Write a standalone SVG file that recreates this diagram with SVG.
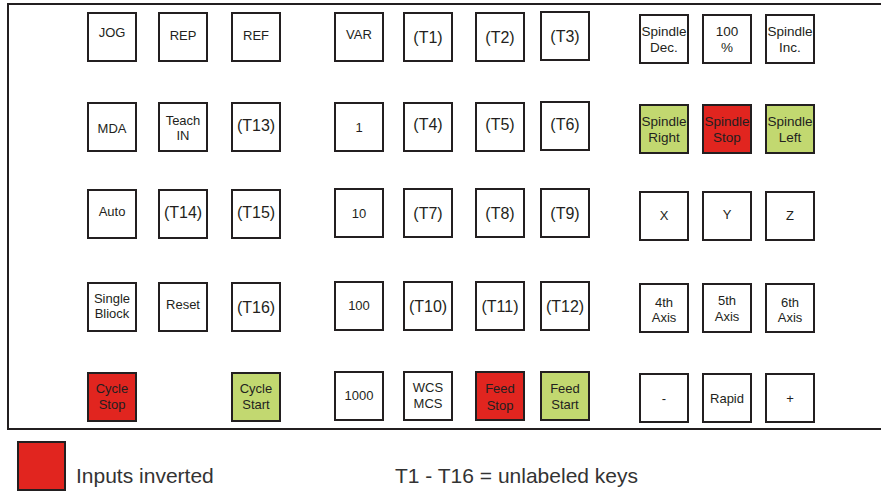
<svg xmlns="http://www.w3.org/2000/svg" width="881" height="492" viewBox="0 0 881 492">
<style>
.k{fill:#fff;stroke:#231f20;stroke-width:2}
.r{fill:#e1251f;stroke:#231f20;stroke-width:2}
.g{fill:#c2d870;stroke:#231f20;stroke-width:2}
text{font-family:"Liberation Sans",Arial,sans-serif;fill:#231f20;text-anchor:middle}
.s{font-size:13px}
.sp{font-size:13.5px}
.t{font-size:16px}
.lg{font-size:21px;fill:#333;text-anchor:start}
</style>
<rect width="881" height="492" fill="#fff"/>
<g id="frame"><path d="M884,4 H8 V429 H884" fill="none" stroke="#231f20" stroke-width="2"/></g>
<g id="connectors"/>
<!-- Row 1 -->
<g id="jog"><rect class="k" x="88" y="13" width="48" height="48"/><text class="s" x="112" y="37">JOG</text></g>
<g id="rep"><rect class="k" x="159" y="13" width="48" height="48"/><text class="s" x="183" y="40">REP</text></g>
<g id="ref"><rect class="k" x="232" y="13" width="48" height="48"/><text class="s" x="256" y="40">REF</text></g>
<g id="var"><rect class="k" x="335" y="13" width="48" height="48"/><text class="s" x="359" y="39">VAR</text></g>
<g id="t1"><rect class="k" x="404" y="13" width="48" height="48"/><text class="t" x="428" y="43">(T1)</text></g>
<g id="t2"><rect class="k" x="476" y="13" width="48" height="48"/><text class="t" x="500" y="43">(T2)</text></g>
<g id="t3"><rect class="k" x="541" y="12" width="48" height="48"/><text class="t" x="565" y="42">(T3)</text></g>
<g id="spindle-dec"><rect class="k" x="640" y="15" width="48" height="48"/><text class="sp" x="664" y="36">Spindle</text><text class="sp" x="664" y="52">Dec.</text></g>
<g id="pct100"><rect class="k" x="703" y="15" width="48" height="48"/><text class="sp" x="727" y="36">100</text><text class="sp" x="727" y="52">%</text></g>
<g id="spindle-inc"><rect class="k" x="766" y="15" width="48" height="48"/><text class="sp" x="790" y="36">Spindle</text><text class="sp" x="790" y="52">Inc.</text></g>
<!-- Row 2 -->
<g id="mda"><rect class="k" x="88" y="103" width="48" height="48"/><text class="s" x="112" y="133">MDA</text></g>
<g id="teach-in"><rect class="k" x="159" y="103" width="48" height="48"/><text class="s" x="183" y="125">Teach</text><text class="s" x="183" y="140">IN</text></g>
<g id="t13"><rect class="k" x="232" y="103" width="48" height="48"/><text class="t" x="256" y="131">(T13)</text></g>
<g id="one"><rect class="k" x="335" y="103" width="48" height="48"/><text class="s" x="359" y="132">1</text></g>
<g id="t4"><rect class="k" x="404" y="103" width="48" height="48"/><text class="t" x="428" y="130">(T4)</text></g>
<g id="t5"><rect class="k" x="476" y="103" width="48" height="48"/><text class="t" x="500" y="130">(T5)</text></g>
<g id="t6"><rect class="k" x="541" y="102" width="48" height="48"/><text class="t" x="565" y="130">(T6)</text></g>
<g id="spindle-right"><rect class="g" x="640" y="105" width="48" height="48"/><text class="sp" x="664" y="126">Spindle</text><text class="sp" x="664" y="142">Right</text></g>
<g id="spindle-stop"><rect class="r" x="703" y="105" width="48" height="48"/><text class="sp" x="727" y="126">Spindle</text><text class="sp" x="727" y="142">Stop</text></g>
<g id="spindle-left"><rect class="g" x="766" y="105" width="48" height="48"/><text class="sp" x="790" y="126">Spindle</text><text class="sp" x="790" y="142">Left</text></g>
<!-- Row 3 -->
<g id="auto"><rect class="k" x="88" y="190" width="48" height="48"/><text class="s" x="112" y="216">Auto</text></g>
<g id="t14"><rect class="k" x="159" y="190" width="48" height="48"/><text class="t" x="183" y="218">(T14)</text></g>
<g id="t15"><rect class="k" x="232" y="190" width="48" height="48"/><text class="t" x="256" y="218">(T15)</text></g>
<g id="ten"><rect class="k" x="335" y="189" width="48" height="48"/><text class="s" x="359" y="218">10</text></g>
<g id="t7"><rect class="k" x="404" y="189" width="48" height="48"/><text class="t" x="428" y="219">(T7)</text></g>
<g id="t8"><rect class="k" x="476" y="189" width="48" height="48"/><text class="t" x="500" y="219">(T8)</text></g>
<g id="t9"><rect class="k" x="541" y="189" width="48" height="48"/><text class="t" x="565" y="219">(T9)</text></g>
<g id="x"><rect class="k" x="640" y="192" width="48" height="48"/><text class="s" x="664" y="220">X</text></g>
<g id="y"><rect class="k" x="703" y="192" width="48" height="48"/><text class="s" x="727" y="219">Y</text></g>
<g id="z"><rect class="k" x="766" y="192" width="48" height="48"/><text class="s" x="790" y="220">Z</text></g>
<!-- Row 4 -->
<g id="single-block"><rect class="k" x="88" y="283" width="48" height="48"/><text class="s" x="112" y="303">Single</text><text class="s" x="112" y="318">Bliock</text></g>
<g id="reset"><rect class="k" x="159" y="283" width="48" height="48"/><text class="s" x="183" y="309">Reset</text></g>
<g id="t16"><rect class="k" x="232" y="283" width="48" height="48"/><text class="t" x="256" y="313">(T16)</text></g>
<g id="hundred"><rect class="k" x="335" y="282" width="48" height="48"/><text class="s" x="359" y="310">100</text></g>
<g id="t10"><rect class="k" x="404" y="282" width="48" height="48"/><text class="t" x="428" y="312">(T10)</text></g>
<g id="t11"><rect class="k" x="476" y="282" width="48" height="48"/><text class="t" x="500" y="312">(T11)</text></g>
<g id="t12"><rect class="k" x="541" y="282" width="48" height="48"/><text class="t" x="565" y="312">(T12)</text></g>
<g id="axis4"><rect class="k" x="640" y="284" width="48" height="48"/><text class="s" x="664" y="307">4th</text><text class="s" x="664" y="322">Axis</text></g>
<g id="axis5"><rect class="k" x="703" y="284" width="48" height="48"/><text class="s" x="727" y="305">5th</text><text class="s" x="727" y="321">Axis</text></g>
<g id="axis6"><rect class="k" x="766" y="284" width="48" height="48"/><text class="s" x="790" y="307">6th</text><text class="s" x="790" y="322">Axis</text></g>
<!-- Row 5 -->
<g id="cycle-stop"><rect class="r" x="88" y="373" width="48" height="48"/><text class="s" x="112" y="393">Cycle</text><text class="s" x="112" y="409">Stop</text></g>
<g id="cycle-start"><rect class="g" x="232" y="373" width="48" height="48"/><text class="s" x="256" y="393">Cycle</text><text class="s" x="256" y="409">Start</text></g>
<g id="thousand"><rect class="k" x="335" y="372" width="48" height="48"/><text class="s" x="359" y="400">1000</text></g>
<g id="wcs-mcs"><rect class="k" x="404" y="372" width="48" height="48"/><text class="s" x="428" y="392">WCS</text><text class="s" x="428" y="408">MCS</text></g>
<g id="feed-stop"><rect class="r" x="476" y="372" width="48" height="48"/><text class="s" x="500" y="393">Feed</text><text class="s" x="500" y="410">Stop</text></g>
<g id="feed-start"><rect class="g" x="541" y="372" width="48" height="48"/><text class="s" x="565" y="393">Feed</text><text class="s" x="565" y="409">Start</text></g>
<g id="minus"><rect class="k" x="640" y="374" width="48" height="48"/><text class="s" x="664" y="403">-</text></g>
<g id="rapid"><rect class="k" x="703" y="374" width="48" height="48"/><text class="s" x="727" y="403">Rapid</text></g>
<g id="plus"><rect class="k" x="766" y="374" width="48" height="48"/><text class="s" x="790" y="403">+</text></g>
<!-- Legend -->
<g id="legend-inverted"><rect class="r" x="18" y="442" width="47" height="48"/><text class="lg" x="76" y="483">Inputs inverted</text></g>
<g id="legend-unlabeled"><text class="lg" x="395" y="483">T1 - T16 = unlabeled keys</text></g>
</svg>
